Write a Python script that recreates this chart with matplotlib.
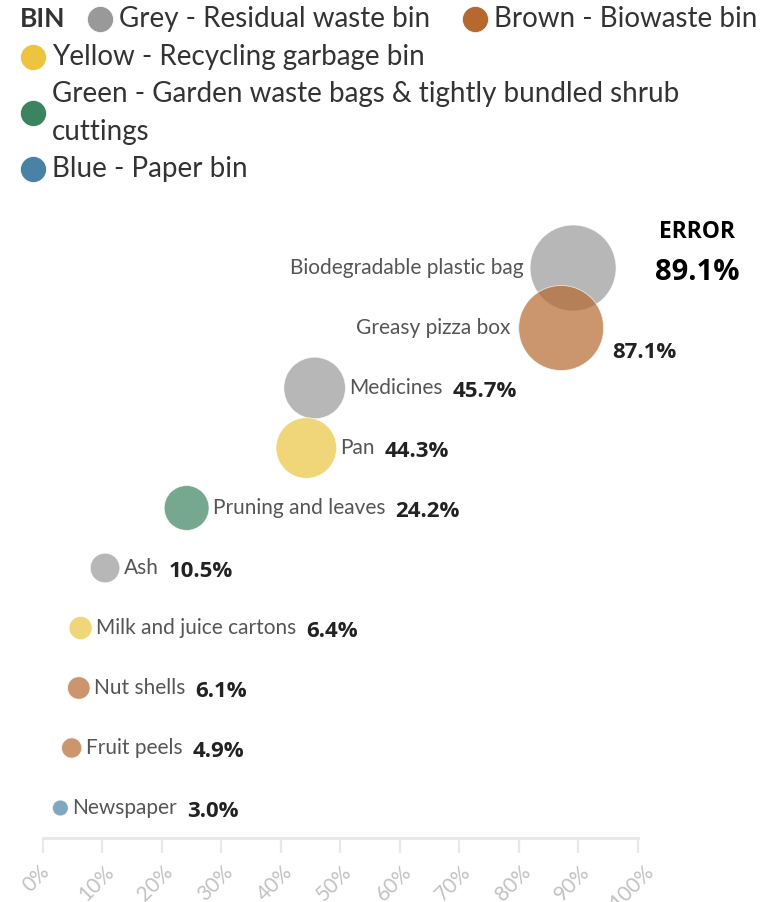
import matplotlib
matplotlib.use("Agg")
import matplotlib.pyplot as plt
import matplotlib.transforms as mtrans
import numpy as np

# data
items = [
    "Biodegradable plastic bag",
    "Greasy pizza box",
    "Medicines",
    "Pan",
    "Pruning and leaves",
    "Ash",
    "Milk and juice cartons",
    "Nut shells",
    "Fruit peels",
    "Newspaper",
]
error_pct = [89.1, 87.1, 45.7, 44.3, 24.2, 10.5, 6.4, 6.1, 4.9, 3.0]
item_bins = ["Grey", "Brown", "Grey", "Yellow", "Green", "Grey", "Yellow", "Brown", "Brown", "Blue"]

bin_names = ["Grey", "Brown", "Yellow", "Green", "Blue"]
bin_labels = [
    "Grey - Residual waste bin",
    "Brown - Biowaste bin",
    "Yellow - Recycling garbage bin",
    "Green - Garden waste bags & tightly bundled shrub\ncuttings",
    "Blue - Paper bin",
]
x_ticks = [0, 10, 20, 30, 40, 50, 60, 70, 80, 90, 100]

BIN_COLORS = {
    "Grey": "#999999",
    "Brown": "#b5692f",
    "Yellow": "#ecc440",
    "Green": "#3b845f",
    "Blue": "#4a82a6",
}
NAME_COLOR = "#555555"
VALUE_COLOR = "#222222"
LEGEND_TEXT = "#333333"
AXIS_GREY = "#e8e8e8"
TICK_TEXT = "#c2c2c2"

NAME_FONT = "Lato"
VALUE_FONT = "Open Sans"
NAME_SIZE = 15
VALUE_SIZE = 16

W, H = 779, 902
DPI = 100
fig = plt.figure(figsize=(W / DPI, H / DPI), dpi=DPI)
fig.patch.set_facecolor("white")

# main bubble axes: 0% at x=42.5px, 100% at x=638px, axis line at y=838px
left_px, right_px = 42.5, 638.0
top_px, bottom_px = 208.0, 838.0
ax = fig.add_axes([left_px / W, (H - bottom_px) / H,
                   (right_px - left_px) / W, (bottom_px - top_px) / H])
ax.set_xlim(0, 100)
ax.set_ylim(len(items) - 0.5, -1)
ax.patch.set_alpha(0)

# bubble area proportional to the error share
size_k = 43.0
sizes = [size_k * v for v in error_pct]
rows = np.arange(len(items))
ax.scatter(
    error_pct, rows, s=sizes,
    c=[BIN_COLORS[b] for b in item_bins],
    alpha=0.7, edgecolors="white", linewidths=0.6, zorder=3, clip_on=False,
)

for spine in ("top", "right", "left"):
    ax.spines[spine].set_visible(False)
ax.spines["bottom"].set_color(AXIS_GREY)
ax.spines["bottom"].set_linewidth(2.2)
ax.set_yticks([])
ax.set_xticks(x_ticks)
ax.set_xticklabels([f"{t}%" for t in x_ticks], rotation=45, ha="center",
                   fontsize=15, color=TICK_TEXT, fontfamily=NAME_FONT)
ax.tick_params(axis="x", length=11, width=1.6, color=AXIS_GREY, pad=6)
shift = mtrans.ScaledTranslation(-6 / DPI, 0, fig.dpi_scale_trans)
for lbl in ax.get_xticklabels():
    lbl.set_transform(lbl.get_transform() + shift)

for i, (name, val, s) in enumerate(zip(items, error_pct, sizes)):
    r_px = np.sqrt(s) / 2 * DPI / 72
    if i == 0:
        ax.annotate(name, (val, i), xytext=(-(r_px + 6), 0), textcoords="offset pixels",
                    ha="right", va="center", fontsize=NAME_SIZE, color=NAME_COLOR,
                    fontfamily=NAME_FONT, zorder=4)
        big = ax.annotate(f"{val}%", (val, i), xytext=(r_px + 39, -4), textcoords="offset pixels",
                          ha="left", va="center", fontsize=21, fontweight="bold",
                          color="black", fontfamily=VALUE_FONT, zorder=4)
        ax.annotate("ERROR", xy=(0.5, 1.0), xycoords=big, xytext=(0, 14),
                    textcoords="offset pixels", ha="center", va="bottom",
                    fontsize=16.5, fontweight="bold", color="black", fontfamily=VALUE_FONT)
    elif i == 1:
        ax.annotate(name, (val, i), xytext=(-(r_px + 8), 0), textcoords="offset pixels",
                    ha="right", va="center", fontsize=NAME_SIZE, color=NAME_COLOR,
                    fontfamily=NAME_FONT, zorder=4)
        ax.annotate(f"{val}%", (val, i), xytext=(r_px + 9, -24), textcoords="offset pixels",
                    ha="left", va="center", fontsize=VALUE_SIZE, fontweight="bold",
                    color=VALUE_COLOR, fontfamily=VALUE_FONT, zorder=4)
    else:
        nm = ax.annotate(name, (val, i), xytext=(r_px + 4, 0), textcoords="offset pixels",
                         ha="left", va="center", fontsize=NAME_SIZE, color=NAME_COLOR,
                         fontfamily=NAME_FONT, zorder=4)
        ax.annotate(f"{val}%", xy=(1.0, 0.5), xycoords=nm, xytext=(10, -3),
                    textcoords="offset pixels", ha="left", va="center", fontsize=VALUE_SIZE,
                    fontweight="bold", color=VALUE_COLOR, fontfamily=VALUE_FONT, zorder=4)

# legend, laid out in pixel coordinates on a full-figure overlay
lg = fig.add_axes([0, 0, 1, 1])
lg.set_xlim(0, W)
lg.set_ylim(H, 0)
lg.axis("off")
lg.patch.set_alpha(0)

lg.text(20, 19, "BIN", ha="left", va="center", fontsize=19, fontweight="bold",
        color=LEGEND_TEXT, fontfamily=NAME_FONT)
legend_pos = [(100, 19), (475, 19), (33, 57), (33, 113), (33, 169)]
for name, label, (cx, cy) in zip(bin_names, bin_labels, legend_pos):
    lg.scatter([cx], [cy], s=(26 * 72 / DPI) ** 2, color=BIN_COLORS[name],
               edgecolors="white", linewidths=0.5, clip_on=False)
    lg.text(cx + 19, cy, label, ha="left", va="center", fontsize=20,
            color=LEGEND_TEXT, fontfamily=NAME_FONT, linespacing=1.55)

fig.savefig("out.png", dpi=DPI, facecolor="white")
